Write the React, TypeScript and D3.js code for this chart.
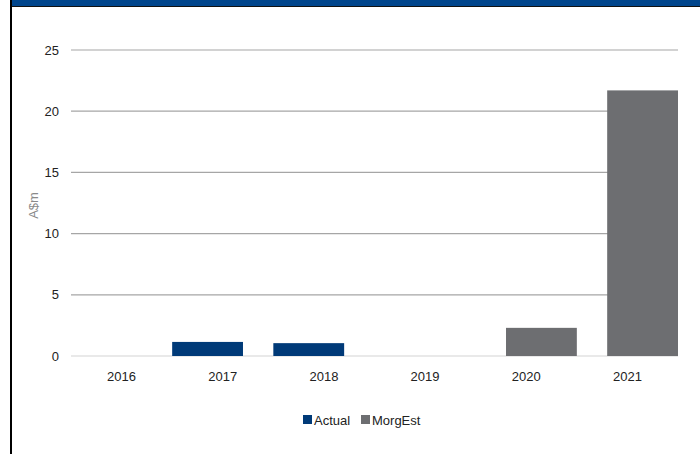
import React from "react";
import * as d3 from "d3";

const categories = ["2016", "2017", "2018", "2019", "2020", "2021"];
const actualValues: (number | null)[] = [null, 1.15, 1.05, null, null, null];
const estValues: (number | null)[] = [null, null, null, null, 2.3, 21.7];
const yTicks = [0, 5, 10, 15, 20, 25];
const seriesNames = ["Actual", "MorgEst"];
const seriesColors = ["#003A78", "#6D6E71"];

export default function App() {
  const W = 700, H = 454;
  const x = d3.scaleBand<string>().domain(categories).range([71, 678]).padding(0);
  const barW = x.bandwidth() * 0.7;
  const sub = d3.scalePoint<string>().domain(seriesNames).range([0, x.bandwidth() - barW]);
  const y = d3.scaleLinear().domain([0, 25]).range([356, 50]);
  const font = "Liberation Sans, Arial, sans-serif";
  const bars: { c: string; s: string; v: number; color: string }[] = [];
  categories.forEach((c, i) => {
    const a = actualValues[i];
    const e = estValues[i];
    if (a != null) bars.push({ c, s: seriesNames[0], v: a, color: seriesColors[0] });
    if (e != null) bars.push({ c, s: seriesNames[1], v: e, color: seriesColors[1] });
  });
  return (
    <svg width={W} height={H} style={{ position: "absolute", left: 0, top: 0, background: "#fff" }} fontFamily={font}>
      <rect x={0} y={0} width={W} height={H} fill="#fff" />
      <rect x={12} y={0} width={W - 12} height={6} fill="#00458C" />
      <rect x={12} y={6} width={W - 12} height={1} fill="#111" />
      <rect x={10} y={0} width={2} height={H} fill="#000" />
      {yTicks.map((t) => (
        <g key={t}>
          <line x1={71} x2={678} y1={y(t)} y2={y(t)} stroke={t === 0 ? "#d4d4d4" : "#a6a6a6"} strokeWidth={1.2} />
          <text x={59} y={y(t)} dy="0.35em" textAnchor="end" fontSize={13} fill="#222">{t}</text>
        </g>
      ))}
      <text transform={`translate(38,${y(12.3)}) rotate(-90)`} textAnchor="middle" fontSize={13} fill="#8a8a8a">A$m</text>
      {bars.map((b, i) => (
        <rect key={i} x={(x(b.c) as number) + (sub(b.s) as number)} y={y(b.v)} width={barW} height={y(0) - y(b.v)} fill={b.color} />
      ))}
      {categories.map((c) => (
        <text key={c} x={(x(c) as number) + x.bandwidth() / 2} y={381} textAnchor="middle" fontSize={13} fill="#222">{c}</text>
      ))}
      <g>
        <rect x={303} y={415} width={9} height={9} fill={seriesColors[0]} />
        <text x={314} y={424.5} fontSize={13} fill="#222">{seriesNames[0]}</text>
        <rect x={361} y={415} width={9} height={9} fill={seriesColors[1]} />
        <text x={372} y={424.5} fontSize={13} fill="#222">{seriesNames[1]}</text>
      </g>
    </svg>
  );
}
